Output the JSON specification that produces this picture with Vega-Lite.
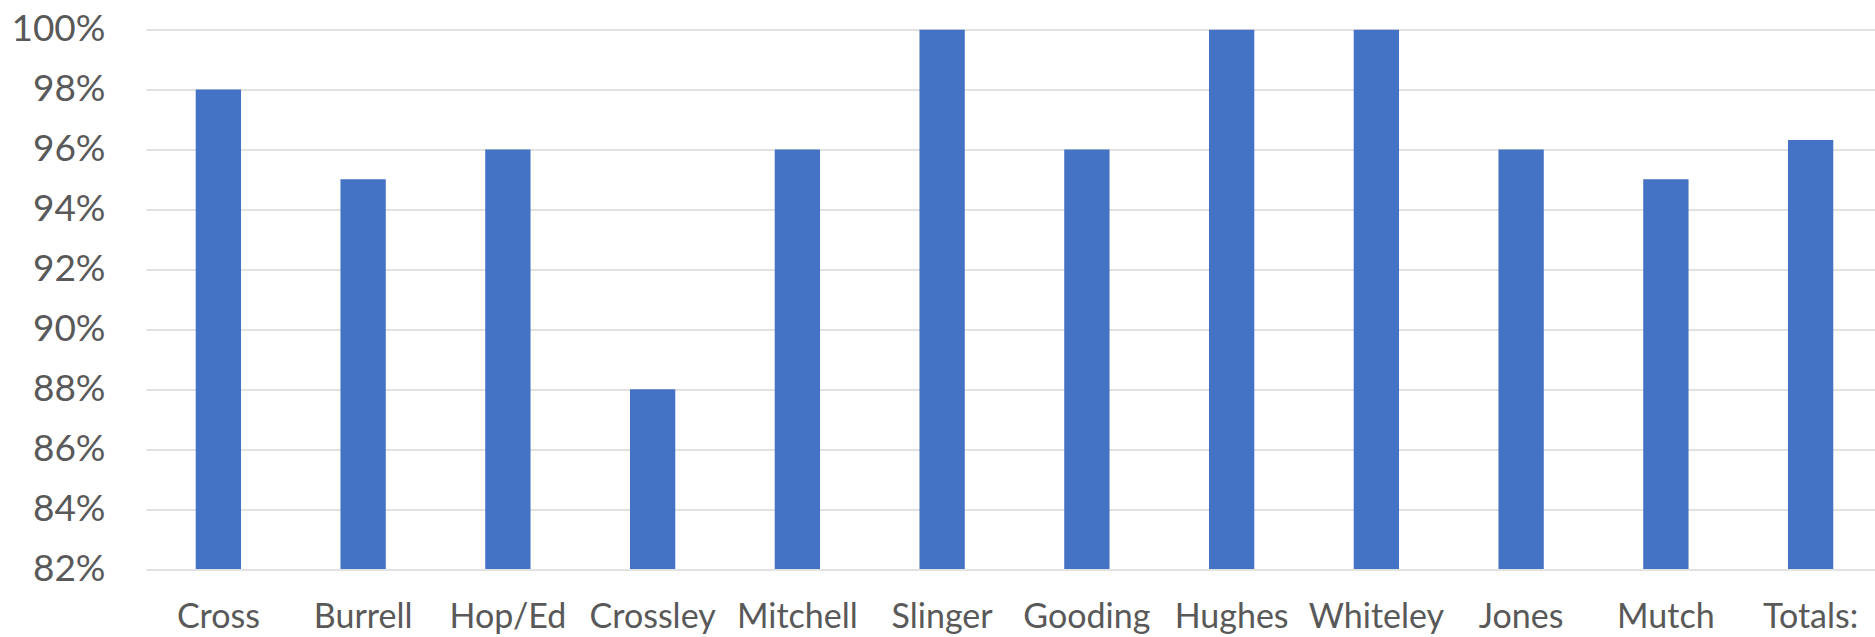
{
  "$schema": "https://vega.github.io/schema/vega-lite/v6.json",
  "autosize": {"type": "none"},
  "padding": {"left": 146, "top": 29.5, "right": 0, "bottom": 68},
  "width": 1737,
  "height": 539.5,
  "background": "white",
  "config": {
    "view": {"stroke": null},
    "font": "Lato"
  },
  "data": {
    "values": [
      {"name": "Cross", "pct": 0.98},
      {"name": "Burrell", "pct": 0.95},
      {"name": "Hop/Ed", "pct": 0.96},
      {"name": "Crossley", "pct": 0.88},
      {"name": "Mitchell", "pct": 0.96},
      {"name": "Slinger", "pct": 1.0},
      {"name": "Gooding", "pct": 0.96},
      {"name": "Hughes", "pct": 1.0},
      {"name": "Whiteley", "pct": 1.0},
      {"name": "Jones", "pct": 0.96},
      {"name": "Mutch", "pct": 0.95},
      {"name": "Totals:", "pct": 0.9631}
    ]
  },
  "mark": {"type": "bar", "color": "#4472C4", "clip": true},
  "encoding": {
    "x": {
      "field": "name",
      "type": "nominal",
      "sort": null,
      "scale": {"paddingInner": 0.687, "paddingOuter": 0.3435},
      "axis": {
        "title": null,
        "labelAngle": 0,
        "ticks": false,
        "domain": false,
        "labelFont": "Lato",
        "labelFontSize": 34,
        "labelColor": "#595959",
        "labelPadding": 31
      }
    },
    "y": {
      "field": "pct",
      "type": "quantitative",
      "scale": {"domain": [0.82, 1.0], "zero": false, "nice": false},
      "axis": {
        "title": null,
        "format": ".0%",
        "values": [0.82, 0.84, 0.86, 0.88, 0.9, 0.92, 0.94, 0.96, 0.98, 1.0],
        "ticks": false,
        "domain": false,
        "gridColor": "#D9D9D9",
        "gridWidth": 1.5,
        "labelFont": "Lato",
        "labelFontSize": 37,
        "labelColor": "#595959",
        "labelPadding": 41
      }
    }
  }
}
